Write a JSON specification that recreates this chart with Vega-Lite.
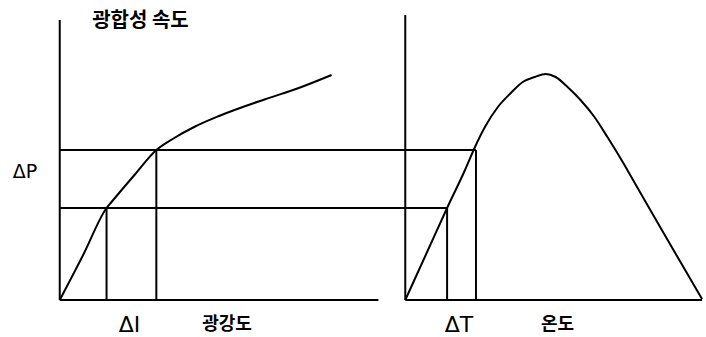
{
  "$schema": "https://vega.github.io/schema/vega-lite/v6.json",
  "width": 706,
  "height": 337,
  "autosize": {"type": "fit", "contains": "padding"},
  "padding": 0,
  "background": "white",
  "config": {"view": {"stroke": null}},
  "layer": [
    {
      "data": {"values": [
        {"part": "left y axis", "x": 60, "y": 0, "x2": 60, "y2": 280},
        {"part": "left x axis", "x": 60, "y": 0, "x2": 380, "y2": 0},
        {"part": "right y axis", "x": 407, "y": 0, "x2": 407, "y2": 285},
        {"part": "right x axis", "x": 407, "y": 0, "x2": 705, "y2": 0},
        {"part": "P high", "x": 60, "y": 150, "x2": 478, "y2": 150},
        {"part": "P low", "x": 60, "y": 92, "x2": 449, "y2": 92},
        {"part": "I low", "x": 107, "y": 0, "x2": 107, "y2": 92},
        {"part": "I high", "x": 157, "y": 0, "x2": 157, "y2": 150},
        {"part": "T low", "x": 449, "y": 0, "x2": 449, "y2": 92},
        {"part": "T high", "x": 478, "y": 0, "x2": 478, "y2": 150}
      ]},
      "mark": {"type": "rule", "color": "black", "strokeWidth": 2},
      "encoding": {
        "x": {"field": "x", "type": "quantitative", "scale": {"domain": [0, 706], "nice": false, "zero": false}, "axis": null},
        "x2": {"field": "x2"},
        "y": {"field": "y", "type": "quantitative", "scale": {"domain": [-37, 300], "nice": false, "zero": false}, "axis": null},
        "y2": {"field": "y2"}
      }
    },
    {
      "data": {"values": [
        {"curve": "light", "x": 60, "y": 0},
        {"curve": "light", "x": 84, "y": 46},
        {"curve": "light", "x": 107, "y": 92},
        {"curve": "light", "x": 112, "y": 98},
        {"curve": "light", "x": 135, "y": 125},
        {"curve": "light", "x": 157, "y": 150},
        {"curve": "light", "x": 175, "y": 162},
        {"curve": "light", "x": 195, "y": 173},
        {"curve": "light", "x": 220, "y": 184},
        {"curve": "light", "x": 267, "y": 201},
        {"curve": "light", "x": 300, "y": 212},
        {"curve": "light", "x": 333, "y": 225},
        {"curve": "temp", "x": 407, "y": 0},
        {"curve": "temp", "x": 428, "y": 46},
        {"curve": "temp", "x": 449, "y": 92},
        {"curve": "temp", "x": 467, "y": 130},
        {"curve": "temp", "x": 477, "y": 153},
        {"curve": "temp", "x": 487, "y": 173},
        {"curve": "temp", "x": 500, "y": 193},
        {"curve": "temp", "x": 513, "y": 207},
        {"curve": "temp", "x": 525, "y": 218},
        {"curve": "temp", "x": 537, "y": 223},
        {"curve": "temp", "x": 548, "y": 226},
        {"curve": "temp", "x": 558, "y": 223},
        {"curve": "temp", "x": 570, "y": 213},
        {"curve": "temp", "x": 583, "y": 200},
        {"curve": "temp", "x": 597, "y": 183},
        {"curve": "temp", "x": 610, "y": 163},
        {"curve": "temp", "x": 623, "y": 142},
        {"curve": "temp", "x": 630, "y": 130},
        {"curve": "temp", "x": 667, "y": 66},
        {"curve": "temp", "x": 705, "y": 1}
      ]},
      "mark": {"type": "line", "color": "black", "strokeWidth": 2, "interpolate": "monotone"},
      "encoding": {
        "x": {"field": "x", "type": "quantitative", "scale": {"domain": [0, 706], "nice": false, "zero": false}, "axis": null},
        "y": {"field": "y", "type": "quantitative", "scale": {"domain": [-37, 300], "nice": false, "zero": false}, "axis": null},
        "detail": {"field": "curve"}
      }
    },
    {
      "data": {"values": [
        {"label": "ΔP", "x": 25, "y": 128}
      ]},
      "mark": {"type": "text", "font": "DejaVu Sans", "fontSize": 19, "color": "black", "align": "center", "baseline": "middle"},
      "encoding": {
        "x": {"field": "x", "type": "quantitative", "scale": {"domain": [0, 706], "nice": false, "zero": false}, "axis": null},
        "y": {"field": "y", "type": "quantitative", "scale": {"domain": [-37, 300], "nice": false, "zero": false}, "axis": null},
        "text": {"field": "label"}
      }
    },
    {
      "data": {"values": [
        {"label": "ΔI", "x": 130, "y": -25},
        {"label": "ΔT", "x": 461, "y": -25}
      ]},
      "mark": {"type": "text", "font": "DejaVu Sans", "fontSize": 22, "color": "black", "align": "center", "baseline": "middle"},
      "encoding": {
        "x": {"field": "x", "type": "quantitative", "scale": {"domain": [0, 706], "nice": false, "zero": false}, "axis": null},
        "y": {"field": "y", "type": "quantitative", "scale": {"domain": [-37, 300], "nice": false, "zero": false}, "axis": null},
        "text": {"field": "label"}
      }
    },
    {
      "data": {"values": [
        {"label": "광합성 속도", "x": 141, "y": 279}
      ]},
      "mark": {"type": "text", "font": "Noto Sans CJK KR", "fontSize": 20, "fontWeight": "bold", "color": "black", "align": "center", "baseline": "middle"},
      "encoding": {
        "x": {"field": "x", "type": "quantitative", "scale": {"domain": [0, 706], "nice": false, "zero": false}, "axis": null},
        "y": {"field": "y", "type": "quantitative", "scale": {"domain": [-37, 300], "nice": false, "zero": false}, "axis": null},
        "text": {"field": "label"}
      }
    },
    {
      "data": {"values": [
        {"label": "광강도", "x": 228, "y": -25},
        {"label": "온도", "x": 560, "y": -25}
      ]},
      "mark": {"type": "text", "font": "Noto Sans CJK KR", "fontSize": 18, "fontWeight": "bold", "color": "black", "align": "center", "baseline": "middle"},
      "encoding": {
        "x": {"field": "x", "type": "quantitative", "scale": {"domain": [0, 706], "nice": false, "zero": false}, "axis": null},
        "y": {"field": "y", "type": "quantitative", "scale": {"domain": [-37, 300], "nice": false, "zero": false}, "axis": null},
        "text": {"field": "label"}
      }
    }
  ]
}
